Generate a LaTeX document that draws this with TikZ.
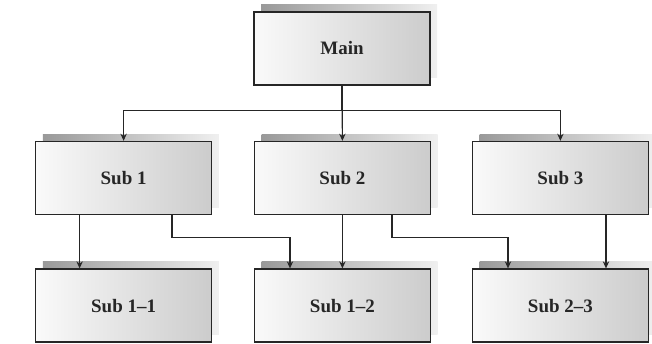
\documentclass[tikz,border=0pt]{standalone}
\usepackage{fontspec}
\setmainfont{Liberation Serif}
\usetikzlibrary{positioning,arrows.meta,calc,shadows}
\definecolor{ink}{HTML}{262626}
\tikzset{
  modbox/.style={draw=ink,line width=1pt,left color=gray!4,right color=gray!40,
    minimum width=4.4cm,minimum height=1.825cm,inner sep=0pt,
    font=\fontsize{13.5}{16}\selectfont\bfseries,text=ink,
    general shadow={shadow xshift=0.18cm,shadow yshift=0.18cm,left color=gray!80,right color=gray!12}},
  flow/.style={-{Stealth[length=5pt,width=4.5pt]},draw=ink,line width=0.8pt}}
\begin{document}
\begin{tikzpicture}
  \useasboundingbox (0,0) rectangle (16.3,-8.6);
  \node[modbox] (main)  at (8.55,-1.21) {Main};
  \node[modbox] (sub1)  at (3.09,-4.45) {Sub 1};
  \node[modbox] (sub2)  at (8.56,-4.45) {Sub 2};
  \node[modbox] (sub3)  at (14.01,-4.45){Sub 3};
  \node[modbox] (sub11) at (3.09,-7.64) {Sub 1--1};
  \node[modbox] (sub12) at (8.56,-7.64) {Sub 1--2};
  \node[modbox] (sub23) at (14.01,-7.64){Sub 2--3};
  % main to the three subs
  \draw[flow] (main.south) -- (sub2.north);
  \draw[flow] (main.south) -- ++(0,-0.63) -| (sub1.north);
  \draw[flow] (main.south) -- ++(0,-0.63) -| (sub3.north);
  % subs to the lower level
  \draw[flow] ([xshift=-1.1cm]sub1.south) -- ([xshift=-1.1cm]sub11.north);
  \draw[flow] ([xshift=1.21cm]sub1.south) -- ++(0,-0.56) -| ([xshift=-1.31cm]sub12.north);
  \draw[flow] (sub2.south) -- (sub12.north);
  \draw[flow] ([xshift=1.24cm]sub2.south) -- ++(0,-0.56) -| ([xshift=-1.31cm]sub23.north);
  \draw[flow] ([xshift=1.14cm]sub3.south) -- ([xshift=1.14cm]sub23.north);
\end{tikzpicture}
\end{document}
